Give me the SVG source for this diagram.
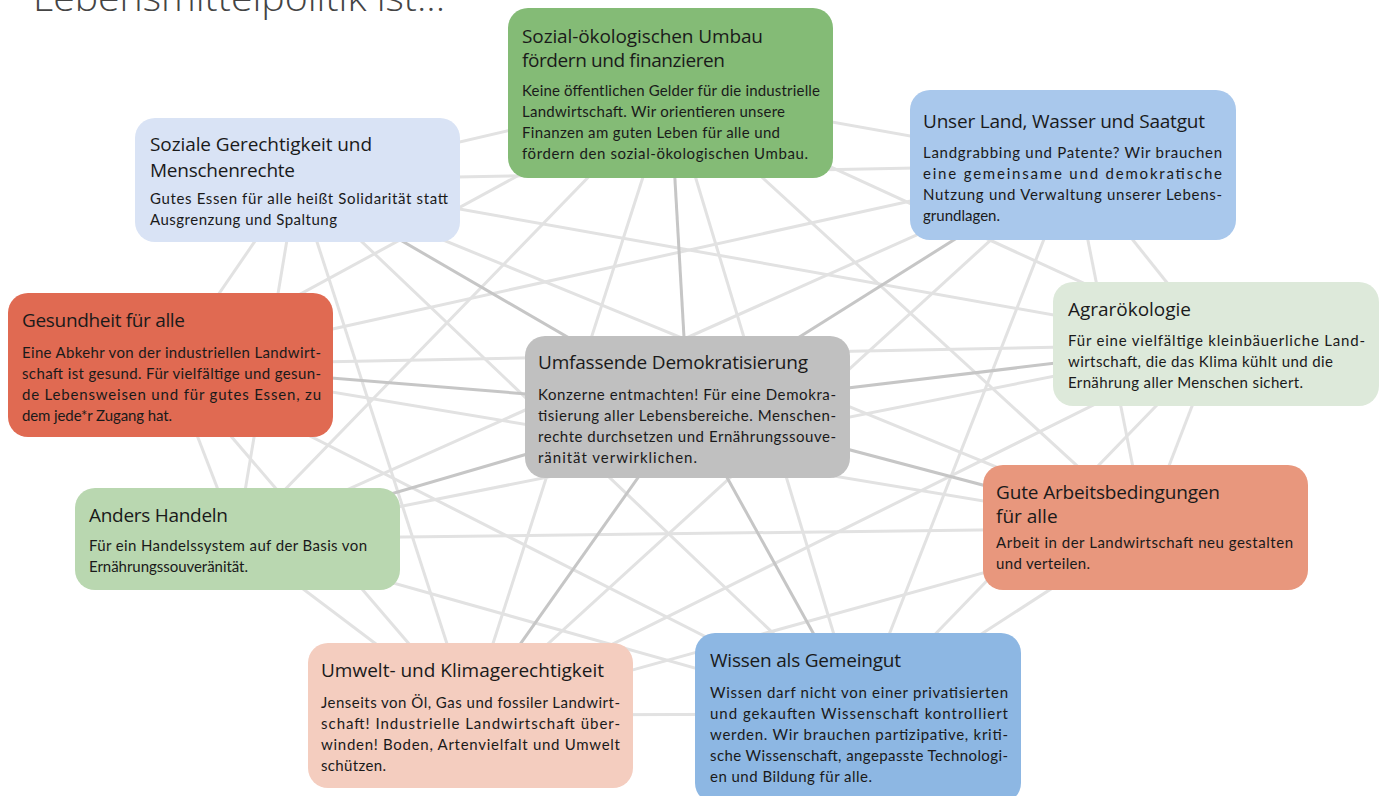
<svg xmlns="http://www.w3.org/2000/svg" width="1384" height="796" viewBox="0 0 1384 796">
<style>
.web line{stroke:#e2e2e2;stroke-width:3;fill:none}
.spoke line{stroke:#c6c6c6;stroke-width:3}
.box{stroke:none}
.t{font-family:"Open Sans","Liberation Sans",sans-serif;font-size:19px;fill:#1a1a1a}
.b{font-family:Lato,"Liberation Sans",sans-serif;font-size:15px;fill:#1a1a1a}
.h{font-family:"Open Sans","Liberation Sans",sans-serif;font-weight:300;font-size:36px;fill:#444}
</style>
<rect width="1384" height="796" fill="#fff"/>
<text class="h" x="33" y="11" textLength="412" lengthAdjust="spacingAndGlyphs">Lebensmittelpolitik ist...</text>
<g id="connectors">
<g class="web">
<line x1="670" y1="93" x2="1073" y2="165"/>
<line x1="670" y1="93" x2="297" y2="180"/>
<line x1="670" y1="93" x2="170" y2="365"/>
<line x1="670" y1="93" x2="1216" y2="344"/>
<line x1="670" y1="93" x2="237" y2="539"/>
<line x1="670" y1="93" x2="1145" y2="528"/>
<line x1="670" y1="93" x2="470" y2="715"/>
<line x1="670" y1="93" x2="858" y2="714"/>
<line x1="1073" y1="165" x2="297" y2="180"/>
<line x1="1073" y1="165" x2="170" y2="365"/>
<line x1="1073" y1="165" x2="1216" y2="344"/>
<line x1="1073" y1="165" x2="237" y2="539"/>
<line x1="1073" y1="165" x2="1145" y2="528"/>
<line x1="1073" y1="165" x2="470" y2="715"/>
<line x1="1073" y1="165" x2="858" y2="714"/>
<line x1="297" y1="180" x2="170" y2="365"/>
<line x1="297" y1="180" x2="1216" y2="344"/>
<line x1="297" y1="180" x2="237" y2="539"/>
<line x1="297" y1="180" x2="1145" y2="528"/>
<line x1="297" y1="180" x2="470" y2="715"/>
<line x1="297" y1="180" x2="858" y2="714"/>
<line x1="170" y1="365" x2="1216" y2="344"/>
<line x1="170" y1="365" x2="237" y2="539"/>
<line x1="170" y1="365" x2="1145" y2="528"/>
<line x1="170" y1="365" x2="470" y2="715"/>
<line x1="170" y1="365" x2="858" y2="714"/>
<line x1="1216" y1="344" x2="237" y2="539"/>
<line x1="1216" y1="344" x2="1145" y2="528"/>
<line x1="1216" y1="344" x2="470" y2="715"/>
<line x1="1216" y1="344" x2="858" y2="714"/>
<line x1="237" y1="539" x2="1145" y2="528"/>
<line x1="237" y1="539" x2="470" y2="715"/>
<line x1="237" y1="539" x2="858" y2="714"/>
<line x1="1145" y1="528" x2="470" y2="715"/>
<line x1="1145" y1="528" x2="858" y2="714"/>
<line x1="470" y1="715" x2="858" y2="714"/>
</g>
<g class="spoke">
<line x1="688" y1="407" x2="670" y2="93"/>
<line x1="688" y1="407" x2="1073" y2="165"/>
<line x1="688" y1="407" x2="297" y2="180"/>
<line x1="688" y1="407" x2="170" y2="365"/>
<line x1="688" y1="407" x2="1216" y2="344"/>
<line x1="688" y1="407" x2="237" y2="539"/>
<line x1="688" y1="407" x2="1145" y2="528"/>
<line x1="688" y1="407" x2="470" y2="715"/>
<line x1="688" y1="407" x2="858" y2="714"/>
</g>
</g>

<g id="n-umbau">
<rect class="box" x="508" y="8" width="325" height="170" rx="20" fill="#84bb76"/>
<text class="t" x="522" y="43" textLength="241" lengthAdjust="spacing">Sozial-ökologischen Umbau</text>
<text class="t" x="522" y="67" textLength="203" lengthAdjust="spacing">fördern und finanzieren</text>
<text class="b" x="522" y="96" textLength="298" lengthAdjust="spacing">Keine öffentlichen Gelder für die industrielle</text>
<text class="b" x="522" y="117" textLength="263" lengthAdjust="spacing">Landwirtschaft. Wir orientieren unsere</text>
<text class="b" x="522" y="138" textLength="258" lengthAdjust="spacing">Finanzen am guten Leben für alle und</text>
<text class="b" x="522" y="159" textLength="286" lengthAdjust="spacing">fördern den sozial-ökologischen Umbau.</text>
</g>

<g id="n-land">
<rect class="box" x="910" y="90" width="326" height="150" rx="20" fill="#a9c8ec"/>
<text class="t" x="923" y="128" textLength="282" lengthAdjust="spacing">Unser Land, Wasser und Saatgut</text>
<text class="b" x="923" y="158" textLength="299" lengthAdjust="spacing">Landgrabbing und Patente? Wir brauchen</text>
<text class="b" x="923" y="179" textLength="299" lengthAdjust="spacing">eine gemeinsame und demokratische</text>
<text class="b" x="923" y="200" textLength="299" lengthAdjust="spacing">Nutzung und Verwaltung unserer Lebens-</text>
<text class="b" x="923" y="221" textLength="77" lengthAdjust="spacing">grundlagen.</text>
</g>

<g id="n-sozial">
<rect class="box" x="135" y="118" width="325" height="124" rx="20" fill="#d9e3f5"/>
<text class="t" x="150" y="151" textLength="222" lengthAdjust="spacing">Soziale Gerechtigkeit und</text>
<text class="t" x="150" y="177" textLength="145" lengthAdjust="spacing">Menschenrechte</text>
<text class="b" x="150" y="204" textLength="298" lengthAdjust="spacing">Gutes Essen für alle heißt Solidarität statt</text>
<text class="b" x="150" y="225" textLength="187" lengthAdjust="spacing">Ausgrenzung und Spaltung</text>
</g>

<g id="n-gesund">
<rect class="box" x="8" y="293" width="325" height="144" rx="20" fill="#e06a52"/>
<text class="t" x="22" y="327" textLength="163" lengthAdjust="spacing">Gesundheit für alle</text>
<text class="b" x="22" y="358" textLength="299" lengthAdjust="spacing">Eine Abkehr von der industriellen Landwirt-</text>
<text class="b" x="22" y="379" textLength="299" lengthAdjust="spacing">schaft ist gesund. Für vielfältige und gesun-</text>
<text class="b" x="22" y="400" textLength="299" lengthAdjust="spacing">de Lebensweisen und für gutes Essen, zu</text>
<text class="b" x="22" y="421" textLength="150" lengthAdjust="spacing">dem jede*r Zugang hat.</text>
</g>

<g id="n-agrar">
<rect class="box" x="1053" y="282" width="326" height="124" rx="20" fill="#dde9da"/>
<text class="t" x="1068" y="316" textLength="123" lengthAdjust="spacing">Agrarökologie</text>
<text class="b" x="1068" y="346" textLength="297" lengthAdjust="spacing">Für eine vielfältige kleinbäuerliche Land-</text>
<text class="b" x="1068" y="367" textLength="265" lengthAdjust="spacing">wirtschaft, die das Klima kühlt und die</text>
<text class="b" x="1068" y="388" textLength="235" lengthAdjust="spacing">Ernährung aller Menschen sichert.</text>
</g>

<g id="n-demokratie">
<rect class="box" x="525" y="336" width="325" height="142" rx="20" fill="#c0c0c0"/>
<text class="t" x="538" y="369" textLength="270" lengthAdjust="spacing">Umfassende Demokratisierung</text>
<text class="b" x="538" y="400" textLength="298" lengthAdjust="spacing">Konzerne entmachten! Für eine Demokra-</text>
<text class="b" x="538" y="421" textLength="298" lengthAdjust="spacing">tisierung aller Lebensbereiche. Menschen-</text>
<text class="b" x="538" y="442" textLength="298" lengthAdjust="spacing">rechte durchsetzen und Ernährungssouve-</text>
<text class="b" x="538" y="463" textLength="159" lengthAdjust="spacing">ränität verwirklichen.</text>
</g>

<g id="n-handeln">
<rect class="box" x="75" y="488" width="325" height="102" rx="20" fill="#b9d7b0"/>
<text class="t" x="89" y="522" textLength="139" lengthAdjust="spacing">Anders Handeln</text>
<text class="b" x="89" y="551" textLength="278" lengthAdjust="spacing">Für ein Handelssystem auf der Basis von</text>
<text class="b" x="89" y="572" textLength="159" lengthAdjust="spacing">Ernährungssouveränität.</text>
</g>

<g id="n-arbeit">
<rect class="box" x="983" y="465" width="325" height="125" rx="20" fill="#e8977d"/>
<text class="t" x="996" y="499" textLength="224" lengthAdjust="spacing">Gute Arbeitsbedingungen</text>
<text class="t" x="996" y="523">für alle</text>
<text class="b" x="996" y="548" textLength="297" lengthAdjust="spacing">Arbeit in der Landwirtschaft neu gestalten</text>
<text class="b" x="996" y="569" textLength="94" lengthAdjust="spacing">und verteilen.</text>
</g>

<g id="n-umwelt">
<rect class="box" x="308" y="643" width="325" height="145" rx="20" fill="#f4cdbf"/>
<text class="t" x="321" y="677" textLength="283" lengthAdjust="spacing">Umwelt- und Klimagerechtigkeit</text>
<text class="b" x="321" y="708" textLength="299" lengthAdjust="spacing">Jenseits von Öl, Gas und fossiler Landwirt-</text>
<text class="b" x="321" y="729" textLength="299" lengthAdjust="spacing">schaft! Industrielle Landwirtschaft über-</text>
<text class="b" x="321" y="750" textLength="299" lengthAdjust="spacing">winden! Boden, Artenvielfalt und Umwelt</text>
<text class="b" x="321" y="771" textLength="65" lengthAdjust="spacing">schützen.</text>
</g>

<g id="n-wissen">
<rect class="box" x="695" y="633" width="326" height="170" rx="20" fill="#8db7e3"/>
<text class="t" x="710" y="667" textLength="191" lengthAdjust="spacing">Wissen als Gemeingut</text>
<text class="b" x="710" y="698" textLength="298" lengthAdjust="spacing">Wissen darf nicht von einer privatisierten</text>
<text class="b" x="710" y="719" textLength="298" lengthAdjust="spacing">und gekauften Wissenschaft kontrolliert</text>
<text class="b" x="710" y="740" textLength="298" lengthAdjust="spacing">werden. Wir brauchen partizipative, kriti-</text>
<text class="b" x="710" y="761" textLength="298" lengthAdjust="spacing">sche Wissenschaft, angepasste Technologi-</text>
<text class="b" x="710" y="782" textLength="162" lengthAdjust="spacing">en und Bildung für alle.</text>
</g>
</svg>
